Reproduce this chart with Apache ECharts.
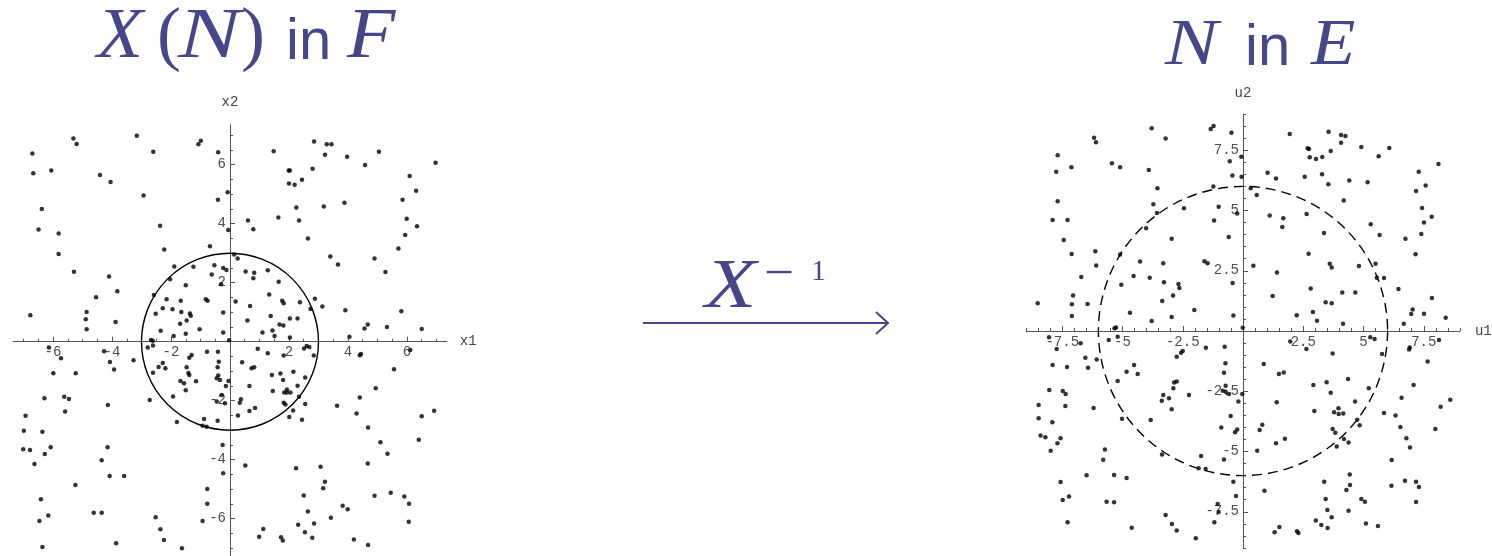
<!DOCTYPE html>
<html>
<head>
<meta charset="utf-8">
<title>X(N) in F → N in E</title>
<script src="https://cdn.jsdelivr.net/npm/echarts@6.0.0/dist/echarts.min.js"></script>
<style>
  html, body { margin: 0; padding: 0; background: #ffffff; }
  #chart { width: 1492px; height: 556px; }
</style>
</head>
<body>
<div id="chart"></div>
<script>
// ---- Points of X(N) in the F plane (x1, x2), grouped by quadrant ----
const fTopLeft = [
  [-6.70,6.38],[-6.67,5.71],[-5.31,6.89],[-5.20,6.70],[-3.16,6.98],[-2.60,6.44],[-1.07,6.69],[-0.99,6.81],
  [-0.40,6.42],[-6.06,5.80],[-4.41,5.65],[-4.05,5.41],[-2.93,4.96],[-6.38,4.50],[-6.49,3.80],[-5.81,3.67],
  [-5.81,2.97],[-2.37,3.93],[-2.23,3.13],[-0.41,4.81],[-0.08,5.07],[-0.06,3.79],[-0.68,3.24],[-5.29,2.37],
  [-4.10,2.21],[-3.82,1.71],[-4.54,1.51],[-6.77,0.90],[-4.86,1.01],[-4.89,0.76],[-4.86,0.42],[-3.88,0.67],
  [-1.89,2.55],[-1.24,2.54],[-0.53,2.59],[-0.23,2.50],[-0.12,2.43],[-0.62,2.28],[-2.03,2.12],[-1.50,1.91],
  [-0.30,1.95],[-2.58,1.58],[-2.15,1.44],[-1.67,1.39],[-0.82,1.44],[-0.76,1.39],[-2.52,0.95],[-2.28,1.13],
  [-1.95,1.10],[-1.65,1.01],[-1.36,0.96],[-1.33,0.88],[-1.47,0.72],[-1.69,0.61],[-0.23,0.99],[-2.35,0.37],
  [-1.91,0.19],[-1.50,0.27],[-1.03,0.42],[-0.23,0.31],[-2.68,0.06],[-2.62,0.03],[-0.03,0.05]
];
const fTopRight = [
  [1.48,6.46],[2.85,6.79],[3.28,6.69],[3.44,6.69],[3.22,6.34],[3.97,6.27],[4.58,5.99],[5.05,6.44],
  [6.97,6.07],[1.99,5.80],[2.03,5.80],[2.80,5.86],[2.00,5.36],[2.19,5.32],[2.44,5.49],[6.09,5.62],
  [6.31,5.12],[5.85,4.81],[3.18,4.58],[3.88,4.71],[2.25,4.55],[1.64,4.21],[0.61,4.11],[2.34,4.11],
  [0.79,3.81],[5.99,4.17],[6.34,3.91],[5.94,3.62],[2.64,3.50],[5.71,3.16],[3.40,2.89],[3.66,2.62],
  [4.90,2.82],[5.27,2.36],[0.14,2.96],[0.26,2.82],[0.53,2.38],[0.82,2.34],[0.79,2.15],[1.28,2.42],
  [1.65,2.03],[1.33,1.60],[0.19,1.36],[0.68,1.21],[1.77,1.39],[1.82,1.30],[2.37,1.34],[2.88,1.46],
  [2.73,1.11],[3.13,1.19],[3.91,1.07],[5.81,1.03],[0.59,0.72],[1.38,0.87],[2.03,0.79],[2.29,0.79],
  [1.68,0.58],[1.81,0.55],[1.10,0.31],[1.44,0.38],[1.51,0.19],[2.03,0.14],[4.56,0.45],[4.67,0.58],
  [5.32,0.50],[6.50,0.43],[4.05,0.17]
];
const fBottomLeft = [
  [-6.14,-0.20],[-5.73,-0.56],[-5.99,-1.07],[-5.23,-1.07],[-6.29,-1.92],[-5.62,-1.87],[-5.46,-1.94],[-5.59,-2.37],
  [-6.93,-2.51],[-6.99,-3.02],[-6.36,-3.05],[-7.01,-3.65],[-6.78,-3.67],[-6.28,-3.81],[-6.08,-3.58],[-6.63,-4.15],
  [-5.24,-4.86],[-6.41,-5.34],[-6.46,-6.08],[-6.16,-5.89],[-6.36,-6.96],[-4.27,-0.32],[-4.07,-0.69],[-3.93,-0.94],
  [-3.27,-0.63],[-4.14,-2.15],[-4.15,-3.58],[-4.35,-4.02],[-4.08,-4.55],[-3.59,-4.55],[-4.62,-5.80],[-4.35,-5.80],
  [-3.86,-6.83],[-2.79,-0.20],[-2.61,-0.13],[-2.42,-0.86],[-2.28,-0.72],[-2.19,-0.90],[-2.61,-1.05],[-2.72,-1.98],
  [-1.93,-1.86],[-1.80,-2.72],[-1.38,-0.54],[-1.30,-0.45],[-1.47,-0.87],[-1.41,-1.06],[-1.38,-1.13],[-1.68,-1.33],
  [-1.56,-1.41],[-1.50,-1.65],[-1.15,-1.34],[-0.78,-0.34],[-0.41,-0.34],[-0.38,-0.68],[-0.42,-0.87],[-0.40,-1.15],
  [-0.45,-1.24],[-0.34,-1.30],[-0.05,-1.33],[-0.14,-1.50],[-0.28,-1.81],[-0.45,-2.03],[-0.17,-2.09],[-0.42,-2.68],
  [-0.88,-2.62],[-0.93,-2.85],[-0.79,-2.88],[-0.25,-3.50],[-0.23,-4.46],[-0.77,-4.99],[-0.77,-5.49],[-0.93,-6.08],
  [-2.52,-5.95],[-2.36,-6.36],[-2.24,-6.72],[-1.63,-7.00]
];
const fBottomRight = [
  [0.94,-0.24],[1.28,-0.39],[1.82,-0.47],[2.51,-0.23],[2.60,-0.15],[2.69,-0.18],[2.84,-0.47],[0.41,-0.70],
  [0.73,-0.90],[0.82,-0.87],[1.42,-1.13],[1.71,-1.08],[2.15,-1.02],[1.80,-1.30],[0.66,-1.50],[1.45,-1.67],
  [1.84,-1.72],[1.93,-1.62],[1.93,-1.72],[2.05,-1.72],[2.29,-1.49],[2.55,-1.21],[2.34,-1.87],[1.82,-2.07],
  [1.88,-2.13],[2.55,-2.11],[0.37,-1.95],[0.33,-2.07],[0.85,-2.25],[0.66,-2.35],[0.27,-2.50],[2.14,-2.33],
  [2.01,-2.55],[2.44,-2.65],[4.40,-0.46],[4.44,-0.42],[6.11,-0.28],[5.56,-0.93],[4.94,-1.58],[4.40,-1.89],
  [3.63,-2.17],[4.29,-2.43],[4.68,-2.91],[6.50,-2.53],[6.92,-2.34],[6.40,-3.32],[5.10,-3.41],[5.34,-3.80],
  [4.67,-4.13],[0.52,-4.20],[2.24,-4.29],[3.07,-4.24],[3.22,-4.75],[3.16,-4.97],[2.50,-5.21],[4.90,-5.22],
  [5.45,-5.12],[5.91,-5.25],[6.07,-5.49],[6.06,-6.10],[3.82,-5.56],[3.99,-5.68],[3.42,-5.97],[2.64,-5.76],
  [2.31,-6.21],[2.85,-6.16],[2.54,-6.46],[2.79,-6.65],[1.13,-6.35],[0.99,-6.61],[1.73,-6.63],[1.79,-6.74],
  [4.20,-6.71],[4.68,-6.89]
];

// ---- Points of N in the E plane (u1, u2), grouped by quadrant ----
const eTopLeft = [
  [-6.18,8.02],[-6.10,7.83],[-3.79,8.41],[-3.21,7.99],[-1.34,8.38],[-1.22,8.51],[-0.48,8.23],[-7.69,7.29],
  [-7.75,6.61],[-7.12,6.79],[-5.44,6.96],[-5.10,6.79],[-3.91,6.68],[-0.55,7.04],[-0.07,7.23],[-0.44,6.45],
  [-0.06,6.40],[-1.23,6.00],[-3.55,5.92],[-7.69,5.38],[-3.72,5.26],[-3.57,4.90],[-2.45,5.09],[-1.01,5.16],
  [-0.24,4.88],[-7.90,4.61],[-7.28,4.61],[-1.20,4.58],[-4.02,4.26],[-7.44,3.78],[-2.96,3.83],[-0.59,3.90],
  [-7.11,3.20],[-6.13,3.31],[-5.10,3.17],[-6.09,2.72],[-4.27,2.88],[-3.31,2.81],[-1.60,2.89],[-1.47,2.81],
  [-6.71,2.24],[-5.05,1.92],[-4.54,2.28],[-3.87,2.21],[-3.28,2.02],[-2.68,1.95],[-2.64,1.78],[-0.43,1.99],
  [-7.05,1.47],[-2.90,1.47],[-8.52,1.15],[-7.10,1.11],[-6.45,1.12],[-3.35,1.24],[-2.02,0.87],[-7.10,0.62],
  [-4.69,0.76],[-2.96,0.58],[-3.79,0.41],[-0.40,0.64],[-5.33,0.11],[-5.27,0.15],[-0.01,0.14]
];
const eTopRight = [
  [1.94,8.17],[3.55,8.27],[4.07,8.13],[4.25,8.09],[4.07,7.81],[3.64,7.47],[2.68,7.58],[2.74,7.55],
  [2.77,7.21],[3.03,7.14],[3.29,7.22],[4.91,7.63],[6.07,7.59],[5.63,7.25],[8.11,6.93],[1.02,6.57],
  [1.37,6.33],[2.56,6.40],[3.28,6.50],[3.54,6.09],[4.41,6.24],[5.17,6.17],[7.29,6.61],[7.18,5.81],
  [7.58,6.04],[0.32,5.92],[0.57,5.64],[4.18,5.41],[1.11,4.79],[1.67,4.68],[1.63,4.32],[2.64,4.85],
  [7.43,5.10],[7.83,4.74],[7.51,4.50],[5.30,4.43],[3.36,4.07],[5.67,3.98],[7.40,4.02],[6.74,3.83],
  [7.16,3.18],[2.72,3.21],[0.43,2.71],[3.60,2.79],[3.68,2.63],[4.81,2.70],[5.50,2.79],[1.41,2.43],
  [5.55,2.21],[5.85,2.20],[1.23,1.45],[2.81,1.76],[4.12,1.60],[4.66,1.60],[6.45,1.74],[7.84,1.37],
  [3.43,1.19],[3.68,1.15],[2.23,0.65],[2.90,0.79],[3.07,0.43],[4.15,0.30],[6.67,0.30],[6.98,0.71],
  [7.04,0.89],[7.51,0.72],[8.41,0.55]
];
const eBottomLeft = [
  [-8.05,-0.26],[-7.73,-0.75],[-6.74,-0.51],[-5.57,-0.37],[-5.20,-0.24],[-7.90,-1.41],[-7.30,-1.49],[-6.54,-1.11],
  [-6.43,-1.52],[-6.07,-1.18],[-5.20,-2.07],[-4.83,-1.69],[-4.52,-1.41],[-4.37,-1.78],[-8.04,-2.45],[-7.48,-2.49],
  [-7.36,-2.61],[-7.37,-3.11],[-8.48,-3.07],[-8.48,-3.62],[-7.91,-3.79],[-8.40,-4.34],[-8.20,-4.41],[-7.57,-4.45],
  [-7.70,-4.66],[-7.98,-4.97],[-6.20,-3.20],[-5.02,-3.64],[-3.83,-3.69],[-5.73,-4.92],[-5.80,-5.34],[-6.49,-5.99],
  [-5.35,-5.98],[-4.83,-6.10],[-7.57,-6.27],[-7.48,-7.01],[-7.22,-6.87],[-7.28,-7.94],[-5.66,-7.08],[-5.35,-7.11],
  [-4.62,-8.16],[-3.21,-7.63],[-2.95,-8.01],[-2.75,-8.28],[-1.96,-8.60],[-2.75,-1.07],[-2.57,-0.90],[-2.50,-0.83],
  [-1.54,-0.69],[-2.86,-2.14],[-2.75,-2.10],[-2.89,-2.38],[-3.31,-2.66],[-3.37,-2.89],[-3.07,-2.79],[-2.96,-3.25],
  [-2.24,-2.66],[-3.36,-5.12],[-1.74,-5.19],[-1.84,-5.70],[-1.55,-5.73],[-0.76,-0.65],[-0.73,-1.34],[-0.79,-1.73],
  [-0.72,-2.27],[-0.84,-2.48],[-0.72,-2.52],[-0.58,-2.61],[-0.19,-2.93],[-0.03,-2.61],[-0.51,-3.53],[-0.90,-4.00],
  [-0.33,-4.20],[-0.24,-4.09],[-0.79,-5.33],[-0.40,-6.25],[-0.29,-6.85],[-1.05,-7.18],[-1.01,-7.51],[-1.19,-7.94]
];
const eBottomRight = [
  [1.96,-0.44],[2.63,-0.75],[5.28,-0.26],[5.46,-0.33],[5.77,-0.95],[6.89,-0.77],[6.92,-0.68],[8.13,-0.37],
  [7.66,-1.27],[3.72,-0.93],[0.86,-1.37],[1.49,-1.78],[1.69,-1.72],[2.92,-2.24],[3.47,-2.13],[3.64,-2.56],
  [4.36,-1.99],[5.22,-2.38],[7.08,-2.24],[1.40,-2.96],[2.96,-3.32],[3.78,-3.37],[3.96,-3.21],[3.97,-3.44],
  [4.16,-3.42],[4.65,-2.93],[5.85,-3.40],[6.33,-3.51],[6.58,-2.77],[8.20,-3.14],[8.60,-2.85],[7.98,-4.07],
  [0.69,-4.11],[0.80,-3.89],[4.74,-3.68],[4.84,-3.91],[3.72,-4.07],[3.83,-4.22],[4.19,-4.48],[4.38,-4.63],
  [3.89,-4.79],[6.53,-3.98],[6.78,-4.45],[6.93,-4.83],[1.37,-4.66],[1.74,-4.47],[0.59,-4.97],[6.17,-5.35],
  [0.89,-6.63],[3.37,-6.25],[4.43,-5.95],[4.44,-6.39],[4.29,-6.60],[3.43,-6.97],[3.50,-7.43],[3.68,-7.73],
  [4.38,-7.46],[4.91,-6.97],[5.06,-7.08],[6.16,-6.42],[6.72,-6.21],[7.18,-6.25],[7.30,-6.47],[7.18,-7.10],
  [3.02,-7.86],[3.25,-8.05],[3.51,-8.17],[5.10,-7.99],[5.60,-8.09],[1.31,-8.35],[1.51,-8.13],[2.24,-8.31],
  [2.30,-8.38]
];

// ---- Reference circles ----
const fCircle = [[0, 0, 3]];   // radius 3 in F
const eCircle = [[0, 0, 6]];   // radius 6 in E

// ---- Axis ranges and tick labels ----
const fRange = [-7.35, 7.35];
const eRange = [-9, 9];
const fMajorTicks = [-6, -4, -2, 2, 4, 6];
const eMajorTicks = [-7.5, -5, -2.5, 2.5, 5, 7.5];

// minor ticks every 0.5, skipping the origin
function halfSteps(lo, hi) {
  const out = [];
  for (let k = Math.ceil(lo * 2); k <= Math.floor(hi * 2); k++) {
    if (k !== 0) out.push(k / 2);
  }
  return out;
}
const fMinorTicks = halfSteps(fRange[0], fRange[1]);
const eMinorTicks = halfSteps(eRange[0], eRange[1]);

// square plot boxes; axes cross at the origin (middle of each box)
const fBox = { left: 13.2, top: 124.9, size: 433.6 };
const eBox = { left: 1026.1, top: 114.1, size: 433.8 };

const AXIS_COLOR = '#555555';
const LABEL_COLOR = '#4d4d4d';
const MONO = '"Liberation Mono", "DejaVu Sans Mono", monospace';
const TITLE_COLOR = '#46468a';

function majorAxis(gridIndex, range, ticks, name, nameGap, position, offset) {
  return {
    gridIndex, type: 'value', min: range[0], max: range[1], position, offset,
    axisLine: { show: true, onZero: false, lineStyle: { color: AXIS_COLOR, width: 1 } },
    axisTick: { show: true, inside: true, length: 5, customValues: ticks,
                lineStyle: { color: AXIS_COLOR, width: 1 } },
    axisLabel: { show: true, customValues: ticks, margin: 4, fontFamily: MONO,
                 fontSize: 14, color: LABEL_COLOR },
    splitLine: { show: false },
    name, nameLocation: 'end', nameGap,
    nameTextStyle: { fontFamily: MONO, fontSize: 14, color: '#444' }
  };
}
function minorAxis(gridIndex, range, ticks, position, offset) {
  return {
    gridIndex, type: 'value', min: range[0], max: range[1], position, offset,
    axisLine: { show: false, onZero: false },
    axisTick: { show: true, inside: true, length: 3, customValues: ticks,
                lineStyle: { color: AXIS_COLOR, width: 1 } },
    axisLabel: { show: false },
    splitLine: { show: false }
  };
}

function circleSeries(axisIndex, data, dash) {
  return {
    type: 'custom', xAxisIndex: axisIndex, yAxisIndex: axisIndex, data,
    encode: { x: 0, y: 1 }, z: 1, silent: true,
    renderItem: function (params, api) {
      const c = api.coord([api.value(0), api.value(1)]);
      const r = api.size([api.value(2), 0])[0];
      return {
        type: 'circle',
        shape: { cx: c[0], cy: c[1], r: r },
        style: { fill: 'none', stroke: '#000', lineWidth: 1.4, lineDash: dash }
      };
    }
  };
}
function pointSeries(axisIndex, data) {
  return {
    type: 'scatter', xAxisIndex: axisIndex, yAxisIndex: axisIndex, data,
    symbol: 'circle', symbolSize: 4.5, itemStyle: { color: '#000' }, z: 3, silent: true
  };
}

// title glyphs: text placed on a shared baseline
function glyph(text, x, baseline, size, style, scaleX) {
  const family = style === 'sans' ? '"Liberation Sans", Arial, sans-serif'
                                  : '"Liberation Serif", "Times New Roman", serif';
  const italic = style === 'italic' ? 'italic ' : '';
  return {
    type: 'text', x: x, y: baseline - 0.3 * size, scaleX: scaleX || 1, silent: true,
    style: {
      text: text, font: italic + size + 'px ' + family, fill: TITLE_COLOR,
      align: 'left', verticalAlign: 'middle', textAlign: 'left', textVerticalAlign: 'middle'
    }
  };
}

const fHalf = fBox.size / 2;
const eHalf = eBox.size / 2;

const chart = echarts.init(document.getElementById('chart'), null, { renderer: 'canvas' });
chart.setOption({
  animation: false,
  backgroundColor: '#ffffff',
  grid: [
    { left: fBox.left, top: fBox.top, width: fBox.size, height: fBox.size,
      containLabel: false, outerBoundsMode: 'none' },
    { left: eBox.left, top: eBox.top, width: eBox.size, height: eBox.size,
      containLabel: false, outerBoundsMode: 'none' }
  ],
  xAxis: [
    majorAxis(0, fRange, fMajorTicks, 'x1', 13, 'bottom', -fHalf),
    minorAxis(0, fRange, fMinorTicks, 'bottom', -fHalf),
    majorAxis(1, eRange, eMajorTicks, 'u1', 15, 'bottom', -eHalf),
    minorAxis(1, eRange, eMinorTicks, 'bottom', -eHalf)
  ],
  yAxis: [
    majorAxis(0, fRange, fMajorTicks, 'x2', 16, 'left', -fHalf),
    minorAxis(0, fRange, fMinorTicks, 'left', -fHalf),
    majorAxis(1, eRange, eMajorTicks, 'u2', 14, 'left', -eHalf),
    minorAxis(1, eRange, eMinorTicks, 'left', -eHalf)
  ],
  series: [
    circleSeries(0, fCircle, null),
    pointSeries(0, [].concat(fTopLeft, fTopRight, fBottomLeft, fBottomRight)),
    circleSeries(2, eCircle, [10, 6]),
    pointSeries(2, [].concat(eTopLeft, eTopRight, eBottomLeft, eBottomRight))
  ],
  graphic: [
    // X(N) in F
    glyph('X', 97, 60, 72, 'italic', 1.05),
    glyph('(', 157, 60, 72, 'upright'),
    glyph('N', 178, 60, 72, 'italic', 1.3),
    glyph(')', 241, 60, 72, 'upright'),
    glyph('in', 286, 60, 58, 'sans'),
    glyph('F', 347, 60, 72, 'italic', 1.1),
    // N in E
    glyph('N', 1165, 66, 66, 'italic', 1.2),
    glyph('in', 1245, 66, 58, 'sans'),
    glyph('E', 1311, 66, 66, 'italic', 1.1),
    // X^{-1} over the arrow
    glyph('X', 705, 310, 70, 'italic', 1.2),
    glyph('\u2212', 764, 290, 48, 'upright', 1.1),
    glyph('1', 811, 281.5, 30, 'upright'),
    {
      type: 'line', silent: true,
      shape: { x1: 643, y1: 323, x2: 887, y2: 323 },
      style: { stroke: TITLE_COLOR, lineWidth: 2 }
    },
    {
      type: 'polyline', silent: true,
      shape: { points: [[876, 312], [888, 323], [876, 334]] },
      style: { stroke: TITLE_COLOR, lineWidth: 2, fill: 'none' }
    }
  ]
});
</script>
</body>
</html>
